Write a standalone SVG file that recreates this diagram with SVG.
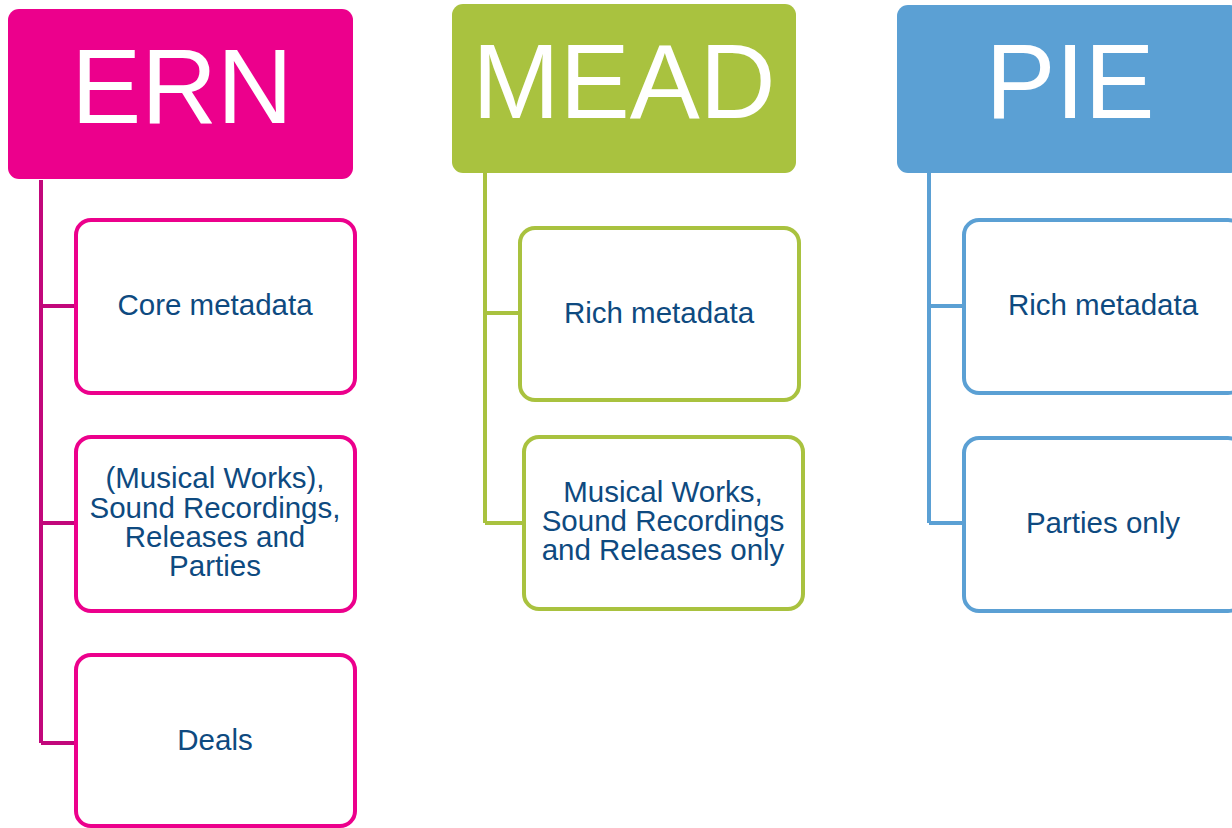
<svg xmlns="http://www.w3.org/2000/svg" width="1232" height="828" viewBox="0 0 1232 828">
<style>
text{font-family:"Liberation Sans",Arial,Helvetica,sans-serif;text-anchor:middle}
.hdr{fill:#fff;font-size:105px}
.lbl{fill:#0E4A80;font-size:29.5px}
.box{fill:#fff;stroke-width:4}
.conn{fill:none;stroke-width:4}
.pk{stroke:#EC008C}.gr{stroke:#A9C23F}.bl{stroke:#5BA0D4}
</style>
<rect width="1232" height="828" fill="#fff"/>
<g id="connectors">
<path class="conn" stroke="#C2077B" d="M41 180V743M41 306H76M41 523H76M41 743H76"/>
<path class="conn gr" d="M485 173V523M485 313H520M485 523H524"/>
<path class="conn bl" d="M929 173V523M929 306H964M929 523H964"/>
</g>
<g id="ern">
<rect x="8" y="9" width="345" height="170" rx="11" fill="#EC008C"/>
<text class="hdr" x="182" y="123">ERN</text>
</g>
<g id="ern-core">
<rect class="box pk" x="76" y="220" width="279" height="173" rx="15"/>
<text class="lbl" x="215" y="315">Core metadata</text>
</g>
<g id="ern-works">
<rect class="box pk" x="76" y="437" width="279" height="174" rx="15"/>
<text class="lbl" x="215" y="488">(Musical Works),</text>
<text class="lbl" x="215" y="518">Sound Recordings,</text>
<text class="lbl" x="215" y="547">Releases and</text>
<text class="lbl" x="215" y="576">Parties</text>
</g>
<g id="ern-deals">
<rect class="box pk" x="76" y="655" width="279" height="171" rx="15"/>
<text class="lbl" x="215" y="750">Deals</text>
</g>
<g id="mead">
<rect x="452" y="4" width="344" height="169" rx="11" fill="#A9C23F"/>
<text class="hdr" x="624" y="118">MEAD</text>
</g>
<g id="mead-rich">
<rect class="box gr" x="520" y="228" width="279" height="172" rx="15"/>
<text class="lbl" x="659" y="323">Rich metadata</text>
</g>
<g id="mead-works">
<rect class="box gr" x="524" y="437" width="279" height="172" rx="15"/>
<text class="lbl" x="663" y="502">Musical Works,</text>
<text class="lbl" x="663" y="531">Sound Recordings</text>
<text class="lbl" x="663" y="560">and Releases only</text>
</g>
<g id="pie">
<rect x="897" y="5" width="344" height="168" rx="11" fill="#5BA0D4"/>
<text class="hdr" x="1070" y="118">PIE</text>
</g>
<g id="pie-rich">
<rect class="box bl" x="964" y="220" width="279" height="173" rx="15"/>
<text class="lbl" x="1103" y="315">Rich metadata</text>
</g>
<g id="pie-parties">
<rect class="box bl" x="964" y="438" width="279" height="173" rx="15"/>
<text class="lbl" x="1103" y="533">Parties only</text>
</g>
</svg>
